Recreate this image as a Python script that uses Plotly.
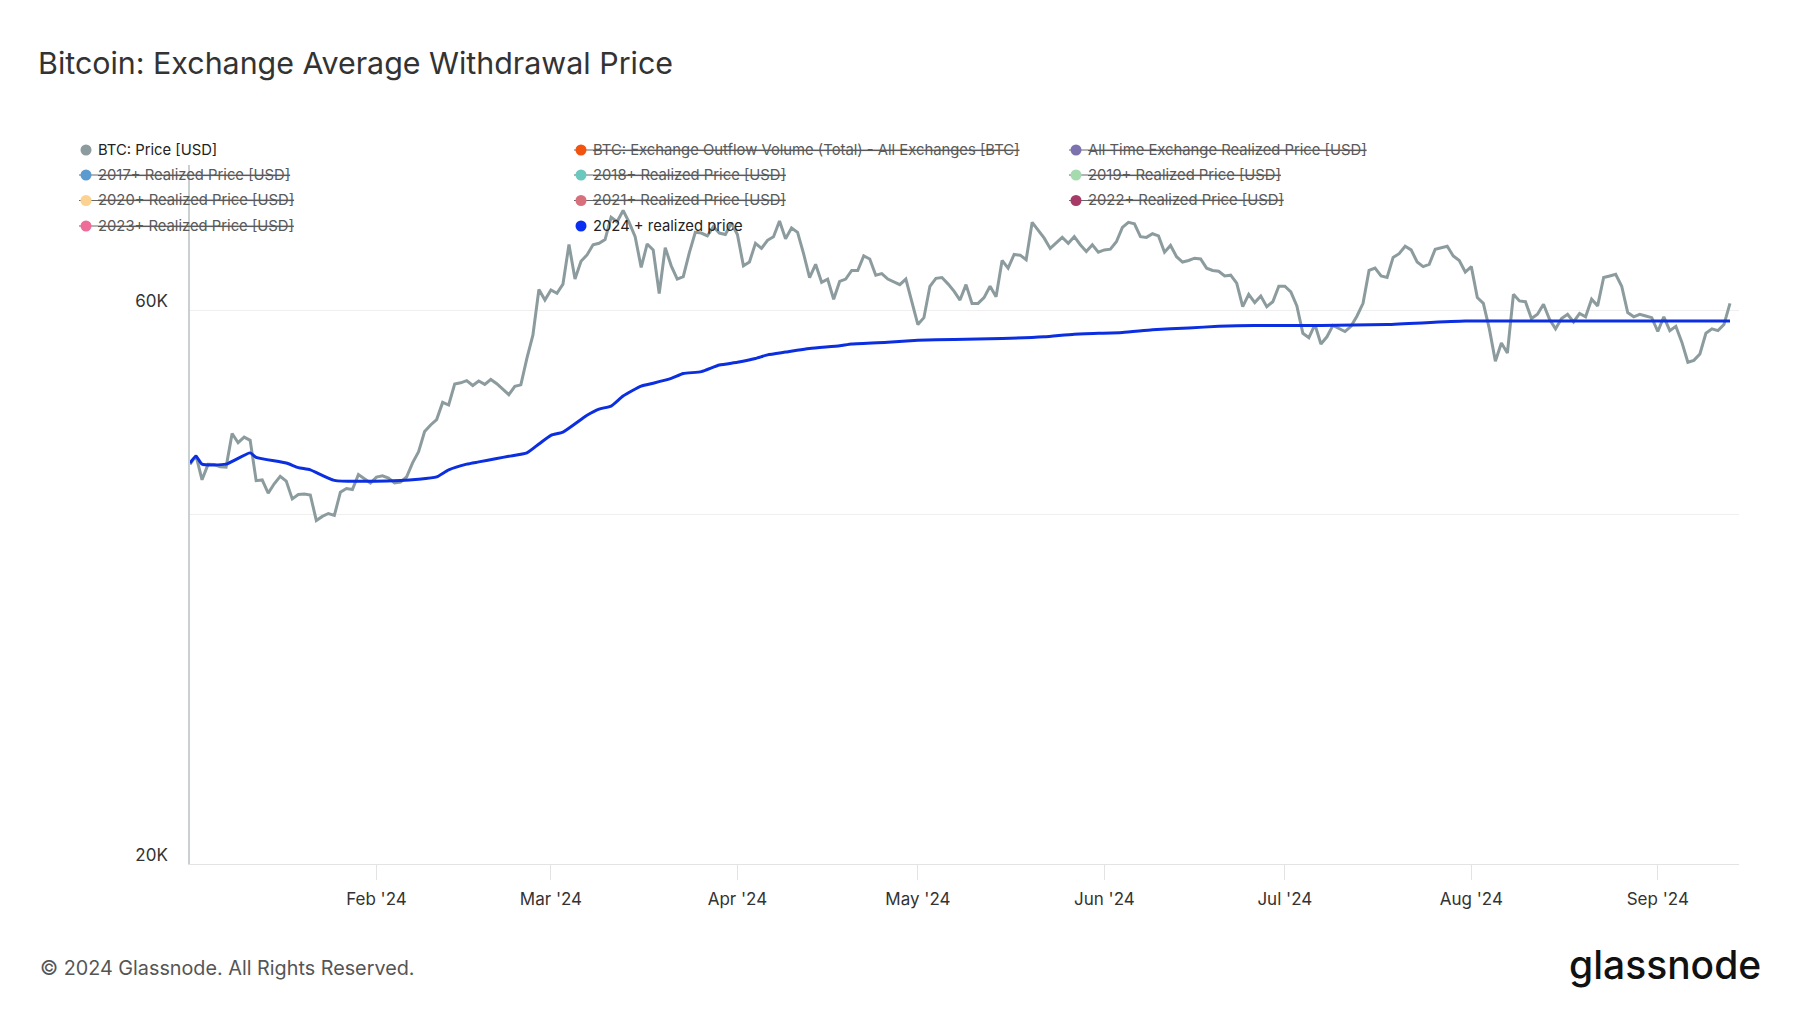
import math
import pandas as pd
import plotly.graph_objects as go

# ---------------- data ----------------
price_jan = [44180, 44950, 42850, 44180, 44160, 43970, 43940, 46970, 46120, 46630,
             46340, 42780, 42840, 41730, 42510, 43150, 42740, 41260, 41620, 41660,
             41580, 39530, 39850, 40080, 39930, 41810, 42120, 42030, 43300, 42940, 42580]
price_feb = [43080, 43190, 42990, 42580, 42660, 43090, 44320, 45300, 47150, 47770,
             48290, 49960, 49700, 51810, 51940, 52160, 51660, 52120, 51780, 52280,
             51840, 51300, 50730, 51570, 51730, 54520, 57090, 62500, 61200]
price_mar = [62440, 62030, 63170, 68330, 63800, 66100, 66930, 68300, 68500, 69000,
             72120, 71480, 73100, 71400, 69400, 65300, 68400, 67600, 62000, 67900,
             65500, 63800, 64100, 67200, 70000, 69900, 69500, 70800, 69900, 69700, 71300]
price_apr = [69700, 65500, 66000, 68500, 67800, 68900, 69400, 71600, 69100, 70600,
             70000, 67100, 64000, 65700, 63400, 63800, 61300, 63500, 63800, 64900,
             64900, 66800, 66400, 64300, 64500, 63800, 63400, 63100, 63800, 60900]
price_may = [58300, 59100, 62900, 63900, 64000, 63200, 62300, 61200, 63100, 60800,
             60800, 61500, 62900, 61600, 66200, 65200, 67000, 66900, 66300, 71400,
             70300, 69200, 67800, 68500, 69300, 68500, 69400, 68300, 67400, 68300, 67300]
price_jun = [67600, 67700, 68700, 70700, 71400, 71200, 69400, 69300, 69800, 69500,
             67300, 68200, 66700, 66000, 66200, 66500, 66400, 65200, 64900, 64800,
             64200, 64300, 63300, 60400, 61900, 60900, 61700, 60400, 61000, 62900]
price_jul = [62900, 62200, 60500, 57300, 56800, 58300, 56100, 56900, 58200, 57800,
             57500, 58100, 59300, 60800, 64900, 65200, 64200, 64000, 66600, 67100,
             68100, 67600, 66000, 65400, 65700, 67700, 67900, 68100, 66800, 66200, 64700]
price_aug = [65400, 61500, 60800, 57800, 54200, 56200, 55100, 61900, 61100, 61000,
             59000, 59500, 60700, 58900, 57800, 59000, 59500, 58600, 59600, 59200,
             61300, 60500, 64000, 64200, 64400, 62900, 59700, 59200, 59500, 59300, 59100]
price_sep = [57500, 59200, 57600, 58100, 56300, 54100, 54300, 55000, 57300, 57800,
             57600, 58300, 60800]

btc_price = (price_jan + price_feb + price_mar + price_apr + price_may +
             price_jun + price_jul + price_aug + price_sep)
price_dates = pd.date_range("2024-01-01", periods=len(btc_price), freq="D")

realized_dates = ["2024-01-01", "2024-01-02", "2024-01-03", "2024-01-07", "2024-01-11",
                  "2024-01-12", "2024-01-17", "2024-01-19", "2024-01-21", "2024-01-25",
                  "2024-02-05", "2024-02-08", "2024-02-11", "2024-02-13", "2024-02-16",
                  "2024-02-18", "2024-02-21", "2024-02-23", "2024-02-26", "2024-02-28",
                  "2024-03-01", "2024-03-03", "2024-03-07", "2024-03-09", "2024-03-11",
                  "2024-03-13", "2024-03-16", "2024-03-18", "2024-03-21", "2024-03-23",
                  "2024-03-26", "2024-03-29", "2024-04-01", "2024-04-04", "2024-04-06",
                  "2024-04-09", "2024-04-13", "2024-04-18", "2024-04-20", "2024-04-26",
                  "2024-05-01", "2024-05-07", "2024-05-15", "2024-05-22", "2024-05-27",
                  "2024-06-04", "2024-06-09", "2024-06-15", "2024-06-20", "2024-06-26",
                  "2024-07-07", "2024-07-18", "2024-07-31", "2024-08-12", "2024-08-23",
                  "2024-09-03", "2024-09-13"]
realized_values = [44300, 44900, 44200, 44200, 45200,
                   44800, 44300, 43900, 43700, 42800,
                   42800, 42900, 43100, 43700, 44200,
                   44400, 44700, 44900, 45200, 46000,
                   46800, 47100, 48700, 49300, 49600,
                   50600, 51600, 51900, 52400, 52900,
                   53100, 53800, 54100, 54500, 54900,
                   55200, 55600, 55900, 56100, 56300,
                   56500, 56600, 56700, 56900, 57200,
                   57400, 57700, 57900, 58100, 58200,
                   58200, 58300, 58700, 58700, 58700,
                   58700, 58700]

legend_names = ["BTC: Price [USD]",
                "BTC: Exchange Outflow Volume (Total) - All Exchanges [BTC]",
                "All Time Exchange Realized Price [USD]",
                "2017+ Realized Price [USD]", "2018+ Realized Price [USD]",
                "2019+ Realized Price [USD]", "2020+ Realized Price [USD]",
                "2021+ Realized Price [USD]", "2022+ Realized Price [USD]",
                "2023+ Realized Price [USD]", "2024 + realized price"]
legend_colors = ["#8c9b9e", "#f2540f", "#7d72b0", "#5b9bd0", "#6cc7be", "#a6dbb0",
                 "#fbd28f", "#d8707c", "#a53b66", "#ef6c98", "#0a2ff0"]
legend_active = [True, False, False, False, False, False, False, False, False, False, True]

tick_dates = ["2024-02-01", "2024-03-01", "2024-04-01", "2024-05-01",
              "2024-06-01", "2024-07-01", "2024-08-01", "2024-09-01"]
tick_labels = ["Feb '24", "Mar '24", "Apr '24", "May '24",
               "Jun '24", "Jul '24", "Aug '24", "Sep '24"]
y_ticks = [20000, 40000, 60000, 80000]
y_labels = ["20K", "", "60K", ""]

# ---------------- layout geometry ----------------
W, H = 1800, 1013
L, R, T, B = 190, 1739, 165, 864
GREY = "#8c9b9e"
BLUE = "#0b2ee0"
FONT = "Inter"


def px(x):
    return (x - L) / (R - L)


def py(y):
    return (B - y) / (B - T)


fig = go.Figure()
fig.add_trace(go.Scatter(x=price_dates, y=btc_price, mode="lines",
                         line=dict(color=GREY, width=3), name=legend_names[0]))
fig.add_trace(go.Scatter(x=pd.to_datetime(realized_dates), y=realized_values, mode="lines",
                         line=dict(color=BLUE, width=3, shape="spline", smoothing=0.5),
                         name=legend_names[-1]))

fig.update_layout(
    width=W, height=H,
    margin=dict(l=L, r=W - R, t=T, b=H - B),
    paper_bgcolor="white", plot_bgcolor="white",
    showlegend=False,
    font=dict(family=FONT, color="#333333"),
    title=dict(text="Bitcoin: Exchange Average Withdrawal Price",
               x=38 / W, xanchor="left", y=1 - 63 / H, yanchor="middle",
               font=dict(family=FONT, size=30.4, color="#333333")),
)

fig.update_xaxes(
    type="date", range=["2024-01-01", "2024-09-14 12:00"],
    tickvals=pd.to_datetime(tick_dates), ticktext=tick_labels,
    ticks="outside", ticklen=15, tickcolor="#e3e3e3", tickwidth=1,
    showgrid=False, zeroline=False,
    showline=True, linecolor="#e3e3e3", linewidth=1,
    tickfont=dict(family=FONT, size=17, color="#333333"),
    ticklabelstandoff=5,
)
fig.update_yaxes(
    type="log", range=[math.log10(20000), math.log10(80000)],
    tickvals=y_ticks, ticktext=y_labels,
    showgrid=True, gridcolor="#efefef", gridwidth=1,
    showline=True, linecolor="#c9d0d0", linewidth=1.5,
    zeroline=False, ticks="",
    tickfont=dict(family=FONT, size=17, color="#333333"),
    ticklabelshift=-9, ticklabelstandoff=17,
)

# ---------------- custom legend ----------------
col_x = [86, 581, 1076]
row_y = [150, 175, 200.5, 226]
shapes = []
annotations = []
for i, (name, color, active) in enumerate(zip(legend_names, legend_colors, legend_active)):
    cx = col_x[i % 3]
    cy = row_y[i // 3]
    if not active:
        shapes.append(dict(type="line", xref="paper", yref="paper",
                           xsizemode="pixel", ysizemode="pixel",
                           xanchor=px(cx), yanchor=py(cy),
                           x0=-7, x1=12, y0=0, y1=0,
                           line=dict(color="#666666", width=1)))
    shapes.append(dict(type="circle", xref="paper", yref="paper",
                       xsizemode="pixel", ysizemode="pixel",
                       xanchor=px(cx), yanchor=py(cy),
                       x0=-5.5, x1=5.5, y0=-5.5, y1=5.5,
                       fillcolor=color, line=dict(width=0)))
    text = name if active else "<s>" + name + "</s>"
    annotations.append(dict(x=px(cx + 10), y=py(cy), xref="paper", yref="paper",
                            xanchor="left", yanchor="middle", showarrow=False,
                            text=text,
                            font=dict(family=FONT, size=14.8,
                                      color="#222222" if active else "#5a5a5a")))

annotations.append(dict(x=px(38), y=py(968), xref="paper", yref="paper",
                        text="© 2024 Glassnode. All Rights Reserved.",
                        showarrow=False, xanchor="left", yanchor="middle",
                        font=dict(family=FONT, size=19.8, color="#555555")))
annotations.append(dict(x=px(1763), y=py(964), xref="paper", yref="paper",
                        text="glassnode", showarrow=False,
                        xanchor="right", yanchor="middle",
                        font=dict(family=FONT, size=39, color="#111111", weight=500)))

fig.update_layout(shapes=shapes, annotations=annotations)

fig.write_html("out.html")
